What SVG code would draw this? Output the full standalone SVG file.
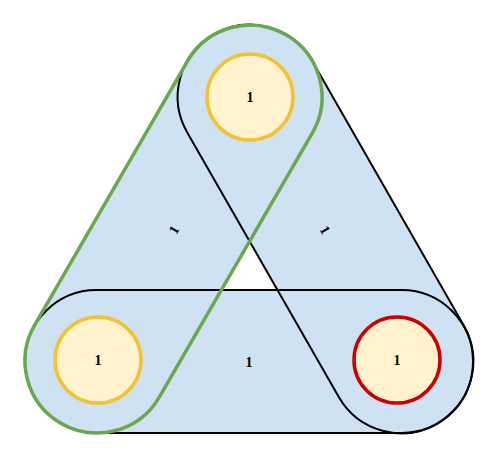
<svg xmlns="http://www.w3.org/2000/svg" width="500" height="459" viewBox="0 0 500 459">
<style>
.fillcap{fill:#cfe2f3;stroke:none}
.cap{fill:none;stroke:#000;stroke-width:2}
.capg{fill:none;stroke:#6aa84f;stroke-width:3.5}
.node{fill:#fff2cc;stroke:#f1c232;stroke-width:3.5}
.nodered{fill:#fff2cc;stroke:#cc0000;stroke-width:3.5}
.lbl{font-family:"Liberation Serif","Times New Roman",serif;font-weight:bold;font-size:14px;fill:#000;text-anchor:middle;dominant-baseline:central}
</style>
<g id="connectors">
  <rect class="fillcap" x="25" y="290" width="448" height="143" rx="71.5"/>
  <rect class="fillcap" x="-224.5" y="-72" width="449" height="144" rx="72" transform="translate(325.5,229) rotate(60.2)"/>
  <rect class="fillcap" x="-224.5" y="-72" width="449" height="144" rx="72" transform="translate(173.5,229) rotate(-59.9)"/>
  <g id="edge-bottom">
    <rect class="cap" x="25" y="290" width="448" height="143" rx="71.5"/>
    <text class="lbl" x="249" y="362">1</text>
  </g>
  <g id="edge-right">
    <rect class="cap" x="-224.5" y="-72" width="449" height="144" rx="72" transform="translate(325.5,229) rotate(60.2)"/>
    <text class="lbl" transform="translate(325,230) rotate(60)">1</text>
  </g>
  <g id="edge-left">
    <rect class="capg" x="-224.5" y="-72" width="449" height="144" rx="72" transform="translate(173.5,229) rotate(-59.9)"/>
    <text class="lbl" transform="translate(174,230) rotate(-60)">1</text>
  </g>
</g>
<g id="node-top">
  <circle class="node" cx="250" cy="97" r="43"/>
  <text class="lbl" x="250" y="97">1</text>
</g>
<g id="node-left">
  <circle class="node" cx="98" cy="360" r="43"/>
  <text class="lbl" x="98" y="360">1</text>
</g>
<g id="node-right">
  <circle class="nodered" cx="397" cy="360" r="43"/>
  <text class="lbl" x="397" y="360">1</text>
</g>
</svg>
